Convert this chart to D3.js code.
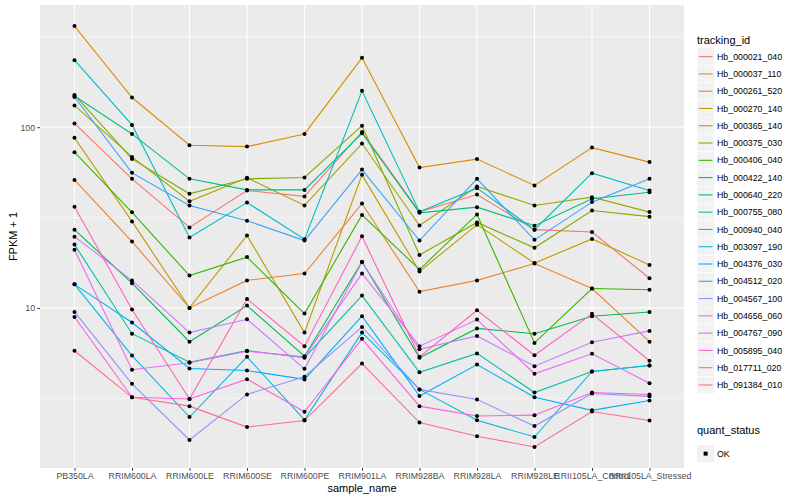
<!DOCTYPE html>
<html><head><meta charset="utf-8">
<script src="https://cdn.jsdelivr.net/npm/d3@7"></script>
<style>body{margin:0;background:#fff} text{font-family:"Liberation Sans",Arial,Helvetica,sans-serif}</style>
</head><body><svg id="c" width="800" height="500"></svg>
<script>
const samples = ["PB350LA","RRIM600LA","RRIM600LE","RRIM600SE","RRIM600PE","RRIM901LA","RRIM928BA","RRIM928LA","RRIM928LE","RRII105LA_Control","RRII105LA_Stressed"];
const trackingIds = ["Hb_000021_040","Hb_000037_110","Hb_000261_520","Hb_000270_140","Hb_000365_140","Hb_000375_030","Hb_000406_040","Hb_000422_140","Hb_000640_220","Hb_000755_080","Hb_000940_040","Hb_003097_190","Hb_004376_030","Hb_004512_020","Hb_004567_100","Hb_004656_060","Hb_004767_090","Hb_005895_040","Hb_017711_020","Hb_091384_010"];
const seriesColors = ["#F8766D","#EA8331","#D89000","#C09B00","#A3A500","#7CAE00","#39B600","#00BB4E","#00BF7D","#00C1A3","#00BFC4","#00BAE0","#00B0F6","#35A2FF","#9590FF","#C77CFF","#E76BF3","#FA62DB","#FF62BC","#FF6C91"];
const yTicks = [10, 100];
const yMinor = [3.1623, 31.623, 316.23];
const quantStatus = ["OK"];

// FPKM + 1 per sample, one array per tracking_id
const s01 = [105, 51.8, 27.9, 44.6, 41.4, 94.2, 34.0, 42.4, 27.1, 26.3, 14.6];
const s02 = [51.1, 23.3, 10.0, 14.2, 15.5, 37.8, 12.3, 14.2, 17.6, 12.8, 6.5];
const s03 = [363, 146, 79.5, 78.1, 91.8, 242, 59.8, 66.6, 47.6, 77.1, 64.1];
const s04 = [87.3, 30.1, 10.0, 25.2, 7.3, 54.5, 15.9, 28.9, 17.7, 24.1, 17.3];
const s05 = [132, 68.5, 38.9, 52.5, 36.9, 81.2, 28.6, 47.0, 36.9, 41.0, 33.9];
const s06 = [151, 66.8, 42.8, 51.8, 52.7, 102, 19.6, 29.7, 21.5, 34.6, 32.0];
const s07 = [72.8, 33.8, 15.1, 19.1, 9.3, 32.7, 16.3, 32.9, 6.4, 12.8, 12.6];
const s08 = [27.1, 13.7, 6.5, 10.3, 5.4, 18.0, 5.3, 7.7, 7.2, 9.0, 9.5];
const s09 = [149, 91.8, 51.8, 45.0, 45.0, 92.6, 33.6, 36.1, 28.5, 40.2, 43.7];
const s10 = [22.4, 7.2, 5.0, 5.8, 5.3, 11.7, 4.4, 5.6, 3.4, 4.45, 4.8];
const s11 = [235, 103, 24.5, 38.3, 24.0, 159, 34.0, 46.0, 27.1, 55.7, 44.6];
const s12 = [13.5, 5.45, 2.49, 5.36, 2.40, 7.3, 3.54, 2.39, 1.93, 4.45, 4.8];
const s13 = [13.5, 8.3, 4.62, 4.5, 4.02, 9.0, 3.25, 4.86, 3.2, 2.71, 3.07];
const s14 = [147, 55.9, 36.9, 30.4, 23.6, 58.3, 23.6, 51.8, 23.8, 38.5, 51.8];
const s15 = [9.5, 3.8, 1.86, 3.32, 4.16, 7.85, 3.54, 3.11, 2.22, 3.36, 3.24];
const s16 = [24.8, 14.2, 7.3, 8.65, 4.6, 17.9, 5.9, 7.0, 4.76, 6.46, 7.46];
const s17 = [21.0, 4.55, 4.97, 5.76, 5.36, 15.5, 6.14, 8.62, 4.32, 5.57, 3.83];
const s18 = [8.9, 3.2, 3.13, 4.03, 2.66, 6.74, 2.86, 2.52, 2.55, 3.4, 3.32];
const s19 = [36.3, 9.8, 3.13, 11.2, 6.14, 24.9, 5.36, 9.7, 5.47, 9.27, 5.1];
const s20 = [5.79, 3.2, 2.86, 2.19, 2.38, 4.92, 2.32, 1.95, 1.70, 2.67, 2.38];
const seriesValues = [s01,s02,s03,s04,s05,s06,s07,s08,s09,s10,s11,s12,s13,s14,s15,s16,s17,s18,s19,s20];

const series = trackingIds.map((id,i)=>({id, color: seriesColors[i], values: seriesValues[i].map((v,j)=>({sample: samples[j], v}))}));

const svg = d3.select("#c");
const P = {l:40, r:684, t:5, b:468};
svg.append("rect").attr("width",800).attr("height",500).attr("fill","#fff");

const all = seriesValues.flat();
const lmin = Math.log10(d3.min(all)), lmax = Math.log10(d3.max(all));
const ex = (lmax-lmin)*0.05;
const y = d3.scaleLog().domain([Math.pow(10,lmin-ex), Math.pow(10,lmax+ex)]).range([P.b, P.t]);
const x = d3.scalePoint().domain(samples).range([P.l, P.r]).padding(0.6);

const g = svg.append("g");
g.append("rect").attr("x",P.l).attr("y",P.t).attr("width",P.r-P.l).attr("height",P.b-P.t).attr("fill","#EBEBEB");
g.selectAll(".ymin").data(yMinor.filter(v=>y(v)>=P.t && y(v)<=P.b)).enter().append("line")
 .attr("x1",P.l).attr("x2",P.r).attr("y1",d=>y(d)).attr("y2",d=>y(d)).attr("stroke","#fff").attr("stroke-width",0.55);
g.selectAll(".ymaj").data(yTicks).enter().append("line")
 .attr("x1",P.l).attr("x2",P.r).attr("y1",d=>y(d)).attr("y2",d=>y(d)).attr("stroke","#fff").attr("stroke-width",1.1);
g.selectAll(".xmaj").data(samples).enter().append("line")
 .attr("y1",P.t).attr("y2",P.b).attr("x1",d=>x(d)).attr("x2",d=>x(d)).attr("stroke","#fff").attr("stroke-width",1.1);

const line = d3.line().x(d=>x(d.sample)).y(d=>y(d.v));
g.selectAll(".ser").data(series).enter().append("path")
 .attr("d",d=>line(d.values)).attr("fill","none").attr("stroke",d=>d.color).attr("stroke-width",1.1);
g.selectAll(".pt").data(series.flatMap(s=>s.values)).enter().append("circle")
 .attr("cx",d=>x(d.sample)).attr("cy",d=>y(d.v)).attr("r",2).attr("fill","#000");

const yAx = d3.axisLeft(y).tickValues(yTicks).tickFormat(d3.format("d")).tickSize(2.75).tickPadding(2.2);
const ya = svg.append("g").attr("transform",`translate(${P.l},0)`).call(yAx);
const xAx = d3.axisBottom(x).tickSize(2.75).tickPadding(2.2);
const xa = svg.append("g").attr("transform",`translate(0,${P.b})`).call(xAx);
[ya,xa].forEach(a=>{a.select(".domain").remove(); a.selectAll(".tick line").attr("stroke","#333"); a.selectAll(".tick text").attr("fill","#4D4D4D").attr("font-size",8.8).attr("font-family","Liberation Sans, Arial, sans-serif");});

svg.append("text").attr("x",(P.l+P.r)/2).attr("y",492).attr("text-anchor","middle").attr("font-size",11).text("sample_name");
svg.append("text").attr("transform",`translate(17,${(P.t+P.b)/2}) rotate(-90)`).attr("text-anchor","middle").attr("font-size",11).text("FPKM + 1");

const lg = svg.append("g");
const kx = 697, ky0 = 48, kh = 17.28;
lg.append("text").attr("x",kx).attr("y",44).attr("font-size",11).text("tracking_id");
series.forEach((s,i)=>{
  const yy = ky0 + i*kh;
  lg.append("rect").attr("x",kx).attr("y",yy).attr("width",17.28).attr("height",kh).attr("fill","#F2F2F2").attr("stroke","#fff").attr("stroke-width",0.5);
  lg.append("line").attr("x1",kx+1.7).attr("x2",kx+15.5).attr("y1",yy+kh/2).attr("y2",yy+kh/2).attr("stroke",s.color).attr("stroke-width",1.1);
  lg.append("text").attr("x",kx+20).attr("y",yy+kh/2+3.1).attr("font-size",8.8).attr("fill","#000").text(s.id);
});
lg.append("text").attr("x",kx).attr("y",434).attr("font-size",11).text("quant_status");
quantStatus.forEach((q,i)=>{
  const yy = 445 + i*kh;
  lg.append("rect").attr("x",kx).attr("y",yy).attr("width",17.28).attr("height",kh).attr("fill","#F2F2F2");
  lg.append("rect").attr("x",kx+8.64-2).attr("y",yy+kh/2-2).attr("width",4).attr("height",4).attr("fill","#000");
  lg.append("text").attr("x",kx+20).attr("y",yy+kh/2+3.1).attr("font-size",8.8).text(q);
});
</script></body></html>
